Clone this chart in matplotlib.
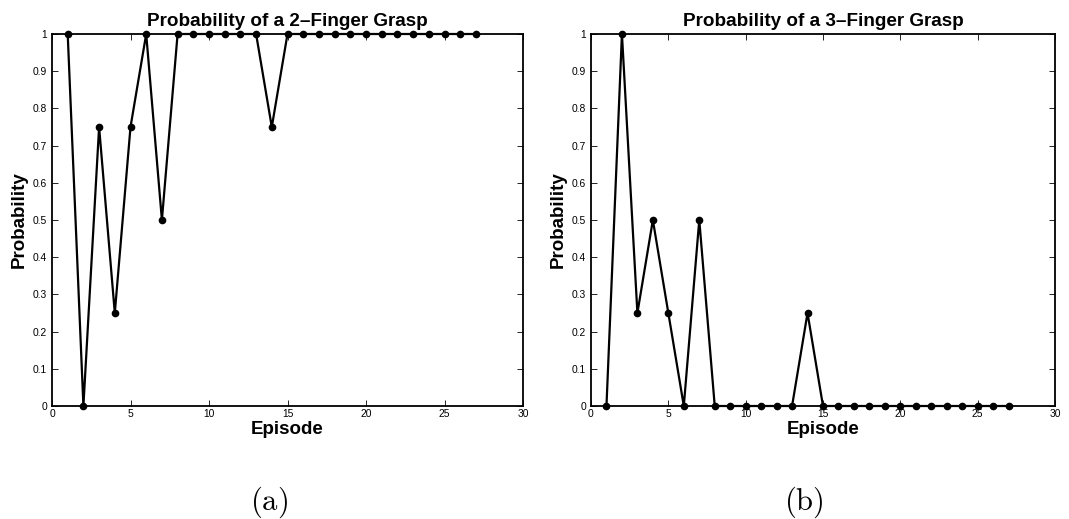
import matplotlib
matplotlib.use("Agg")
import matplotlib.pyplot as plt
import numpy as np

plt.rcParams['font.family'] = ['Liberation Sans', 'DejaVu Sans']
plt.rcParams['mathtext.fontset'] = 'cm'

episodes = list(range(1, 28))
prob_two_finger = [1, 0, 0.75, 0.25, 0.75, 1, 0.5, 1, 1, 1, 1, 1, 1, 0.75,
                   1, 1, 1, 1, 1, 1, 1, 1, 1, 1, 1, 1, 1]
prob_three_finger = [0, 1, 0.25, 0.5, 0.25, 0, 0.5, 0, 0, 0, 0, 0, 0, 0.25,
                     0, 0, 0, 0, 0, 0, 0, 0, 0, 0, 0, 0, 0]
titles = ["Probability of a 2\u2013Finger Grasp", "Probability of a 3\u2013Finger Grasp"]
captions = ["(a)", "(b)"]
x_ticks = [0, 5, 10, 15, 20, 25, 30]
y_ticks = [0, 0.1, 0.2, 0.3, 0.4, 0.5, 0.6, 0.7, 0.8, 0.9, 1]
y_tick_labels = ["0", "0.1", "0.2", "0.3", "0.4", "0.5", "0.6", "0.7", "0.8", "0.9", "1"]

W, H = 1069, 519
fig = plt.figure(figsize=(W / 100, H / 100), dpi=100)

# axes boxes in pixel coordinates: left, top, right, bottom
boxes = [(52, 34, 523, 406), (591, 34, 1055, 406)]
caption_x = [269, 804]

for box, series, title, cap, cx in zip(boxes, [prob_two_finger, prob_three_finger],
                                       titles, captions, caption_x):
    l, t, r, b = box
    ax = fig.add_axes([l / W, 1 - b / H, (r - l) / W, (b - t) / H])
    ax.plot(episodes, series, color='black', linewidth=1.6, marker='o',
            markersize=4.5, clip_on=False, zorder=3)
    ax.set_xlim(0, 30)
    ax.set_ylim(0, 1)
    ax.set_xticks(x_ticks)
    ax.set_xticklabels([str(v) for v in x_ticks])
    ax.set_yticks(y_ticks)
    ax.set_yticklabels(y_tick_labels)
    ax.tick_params(direction='in', length=4, width=0.6, labelsize=7.4,
                   top=True, right=True, colors='black')
    ax.tick_params(axis='x', pad=2.5)
    ax.tick_params(axis='y', pad=3.5)
    for s in ax.spines.values():
        s.set_linewidth(1.3)
    ax.set_title(title, fontsize=13.6, fontweight='bold', pad=6)
    ax.set_xlabel("Episode", fontsize=13.5, fontweight='bold', labelpad=1)
    ax.set_ylabel("Probability", fontsize=13.5, fontweight='bold', labelpad=4)
    fig.text(cx / W, 1 - 502 / H, r"$\mathrm{" + cap + "}$",
             ha='center', va='center', fontsize=22)

fig.savefig("out.png", dpi=100)
